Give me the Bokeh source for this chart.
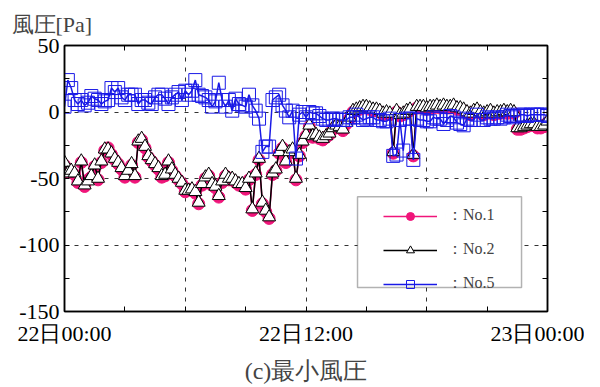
from bokeh.plotting import figure
from bokeh.models import (ColumnDataSource, Legend, LegendItem, FixedTicker, LinearAxis,
                          Range1d, BoxAnnotation, Title)
from bokeh.embed import file_html
from bokeh.resources import INLINE

# time in hours from 22日00:00, 10-minute steps (145 points)
hours = [i / 6 for i in range(145)]

no2 = [-38, -46, -44, -46, -52, -37, -55, -52, -48, -40, -50, -37, -28, -28, -31, -35, -38, -42,
       -48, -44, -39, -48, -22, -20, -26, -33, -36, -39, -42, -48, -47, -37, -43, -47, -50, -53,
       -59, -59, -58, -60, -68, -54, -49, -47, -54, -56, -63, -52, -47, -50, -50, -52, -54, -54,
       -57, -50, -73, -46, -35, -68, -74, -79, -46, -43, -30, -26, -37, -30, -28, -50, -32, -22,
       -17, -10, -18, -17, -19, -20, -18, -16, -12, -10, -11, -13, -8, -4, 1, 2, 3, 4, 4, 3, 2,
       2, 1, -1, 0, -1, -30, 1, -2, -1, 1, 2, -32, 4, 4, 4, 3, 4, 4, 5, 4, 5, 4, 4, 5, 3, 3, 2,
       0, -1, 1, 2, 0, -1, 0, 1, -1, 0, 0, 1, 0, 1, 0, -12, -12, -11, -10, -9, -9, -11, -11, -10, -7]

no1 = [-40, -45, -45, -47, -53, -38, -56, -51, -49, -41, -51, -38, -29, -27, -32, -36, -39, -43,
       -49, -45, -40, -49, -23, -21, -27, -34, -37, -40, -43, -49, -48, -38, -44, -48, -51, -54,
       -60, -58, -59, -61, -69, -55, -50, -48, -55, -57, -64, -53, -48, -51, -51, -53, -55, -55,
       -58, -51, -74, -47, -36, -69, -75, -80, -47, -44, -31, -27, -38, -31, -29, -51, -33, -23,
       -18, -11, -19, -18, -20, -21, -19, -17, -13, -11, -12, -14, -9, -5, 0, 1, 2, 3, 3, 2, 1,
       1, 0, -2, -1, -2, -31, 0, -3, -2, 0, 1, -33, 3, 3, 3, 2, 3, 3, 4, 3, 4, 3, 3, 4, 2, 2, 1,
       -1, -2, 0, 1, -1, -2, -1, 0, -2, -1, -1, 0, -1, 0, -1, -13, -13, -12, -11, -10, -10, -12, -12, -11, -8]

no5 = [4, 24, 18, 9, 6, 9, 5, 7, 12, 10, 9, 6, 8, 9, 18, 15, 18, 11, 9, 13, 13, 13, 6, 9, 9, 7,
       6, 11, 13, 13, 10, 6, 11, 13, 15, 9, 16, 13, 16, 24, 13, 12, 11, 9, 4, 8, 22, 9, 4, 9, 1,
       10, 6, 5, 4, 13, 5, 1, -5, -30, -26, -26, 9, 11, 13, 5, 1, -4, 1, -35, -2, 0, -4, 0, -1,
       -1, -3, -5, -6, -6, -5, -5, -6, -6, -6, -4, -4, -2, -4, -6, -5, -4, -4, -6, -6, -7, -7,
       -5, -33, -32, -6, -29, -5, -5, -36, -5, -6, -6, -7, -7, -4, -5, -5, -9, -6, -3, -4, -8,
       -9, -10, -5, -6, -6, -2, -6, -6, -4, -5, -5, -4, -5, -4, -2, -3, -4, -3, -2, -2, -3, -2,
       -2, -2, -2, -2, -3]

x_ticks = [0, 3, 6, 9, 12, 15, 18, 21, 24]
x_labels = {0: "22日00:00", 12: "22日12:00", 24: "23日00:00"}
y_ticks = [-150, -125, -100, -75, -50, -25, 0, 25, 50]
y_labels = {-150: "-150", -100: "-100", -50: "-50", 0: "0", 50: "50"}
series_names = ["：No.1", "：No.2", "：No.5"]

SERIF = "Liberation Serif"
PINK = "#f0157a"
BLUE = "#1a1ae6"

p = figure(width=584, height=386, output_backend="svg", toolbar_location=None,
           x_range=Range1d(0, 24), y_range=Range1d(-150, 50),
           min_border_left=64, min_border_right=37, min_border_top=42, min_border_bottom=74)

p.title = Title(text="風圧[Pa]", align="left", offset=-53, text_font=SERIF,
                text_font_size="22px", text_font_style="normal", standoff=18)

src = ColumnDataSource(dict(x=hours, a=no1, b=no2, c=no5))

r1l = p.line("x", "a", source=src, line_color=PINK, line_width=1.5)
r1m = p.scatter("x", "a", source=src, marker="circle", size=12, fill_color=PINK, line_color=PINK)
r2l = p.line("x", "b", source=src, line_color="black", line_width=1.5)
r2m = p.scatter("x", "b", source=src, marker="triangle", size=13, fill_color="white",
                line_color="black", line_width=1)
r5l = p.line("x", "c", source=src, line_color=BLUE, line_width=1.5)
r5m = p.scatter("x", "c", source=src, marker="square", size=13, fill_color="white",
                fill_alpha=0.0, line_color=BLUE, line_width=1)

def style_axis(ax, labels):
    ax.major_tick_in = 5
    ax.major_tick_out = 0
    ax.minor_tick_line_color = None
    ax.axis_line_color = "black"
    ax.axis_line_width = 1.5
    ax.major_tick_line_color = "black"
    ax.major_label_text_font = SERIF
    ax.major_label_text_font_size = "22px"
    ax.major_label_text_color = "black"
    ax.major_label_overrides = labels

style_axis(p.xaxis[0], {t: x_labels.get(t, "") for t in x_ticks})
p.xaxis[0].ticker = FixedTicker(ticks=x_ticks)
p.xaxis[0].major_label_standoff = 9
p.xaxis[0].axis_label = "(c)最小風圧"
p.xaxis[0].axis_label_text_font = SERIF
p.xaxis[0].axis_label_text_font_size = "24px"
p.xaxis[0].axis_label_text_font_style = "normal"
p.xaxis[0].axis_label_standoff = 9

style_axis(p.yaxis[0], {t: y_labels.get(t, "") for t in y_ticks})
p.yaxis[0].ticker = FixedTicker(ticks=y_ticks)
p.yaxis[0].major_label_standoff = 5

top = LinearAxis(ticker=FixedTicker(ticks=x_ticks))
style_axis(top, {t: "" for t in x_ticks})
top.major_label_text_font_size = "0px"
p.add_layout(top, "above")
right = LinearAxis(ticker=FixedTicker(ticks=y_ticks))
style_axis(right, {t: "" for t in y_ticks})
right.major_label_text_font_size = "0px"
p.add_layout(right, "right")

p.xgrid.ticker = FixedTicker(ticks=[6, 12, 18])
p.ygrid.ticker = FixedTicker(ticks=[-100, -50, 0])
for g in (p.xgrid[0], p.ygrid[0]):
    g.grid_line_color = "#333333"
    g.grid_line_dash = "4 6"
    g.grid_line_width = 1

p.outline_line_color = "black"
p.outline_line_width = 1.5
p.background_fill_color = "white"
p.border_fill_color = "white"

box = BoxAnnotation(left=14.56, right=22.71, top=-63.7, bottom=-131.9,
                    fill_color="white", fill_alpha=1.0, line_color="black", line_width=1.5)
p.add_layout(box)

legend = Legend(items=[LegendItem(label=series_names[0], renderers=[r1l, r1m]),
                       LegendItem(label=series_names[1], renderers=[r2l, r2m]),
                       LegendItem(label=series_names[2], renderers=[r5l, r5m])],
                location=(312, 10), glyph_width=54, glyph_height=20, spacing=13,
                padding=7, label_standoff=10, label_text_font=SERIF,
                label_text_font_size="16px", background_fill_alpha=0.0,
                border_line_alpha=0.0, margin=0)
p.add_layout(legend, "center")

open("out.html", "w").write(file_html(p, INLINE))
